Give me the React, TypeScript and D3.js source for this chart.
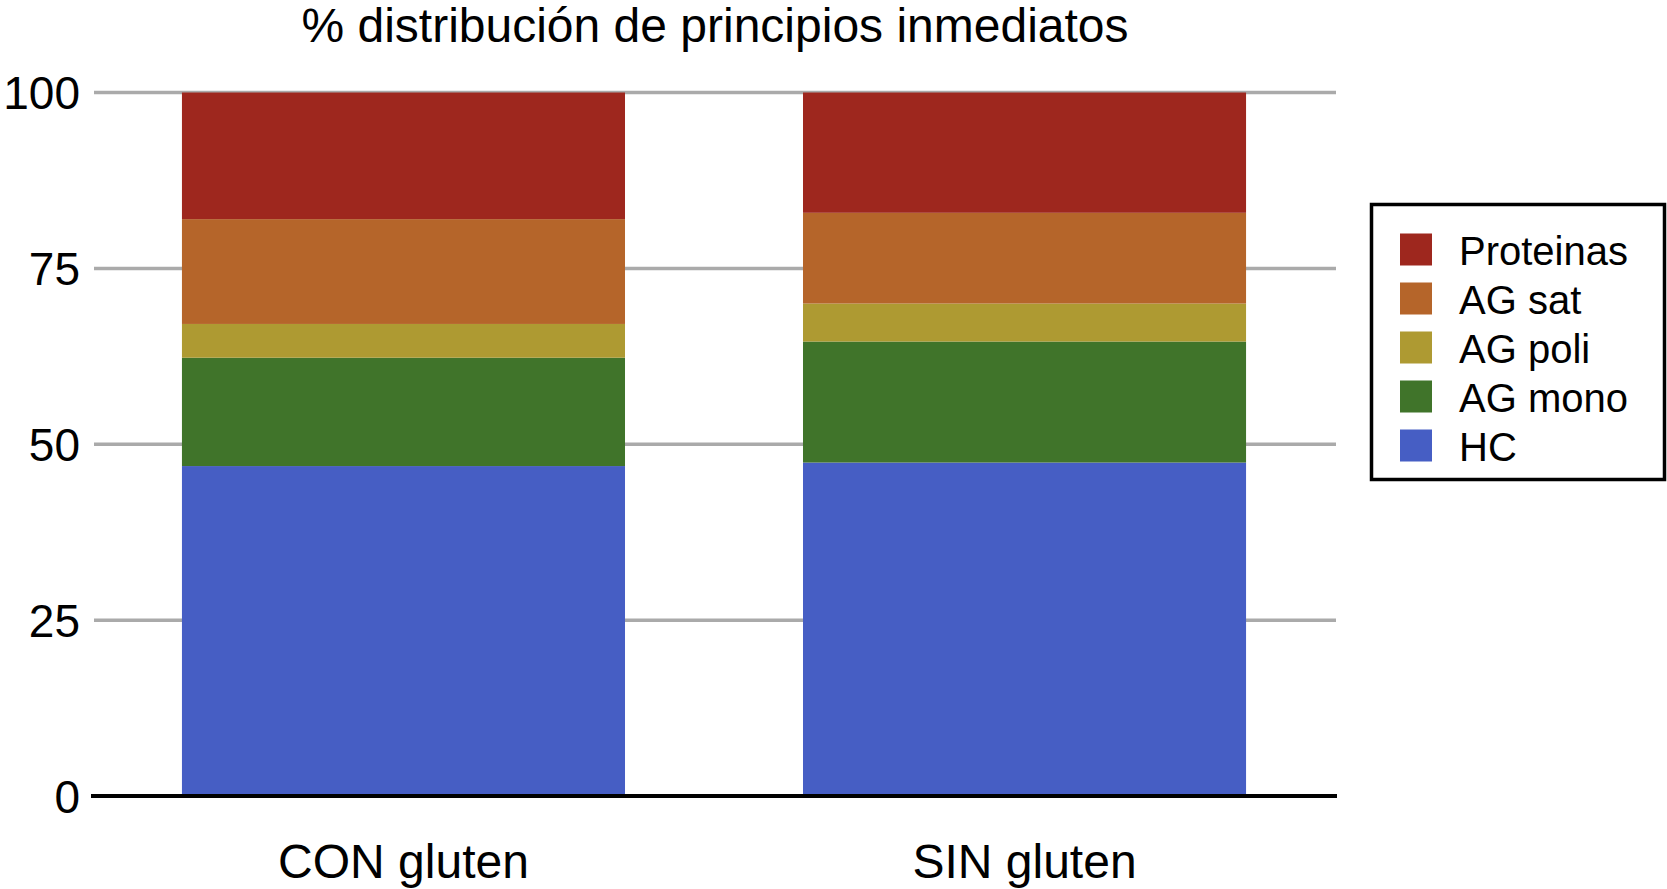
import * as d3 from "d3";

// categorías y series (%)
const categories = ["CON gluten", "SIN gluten"];
const seriesNames = ["HC", "AG mono", "AG poli", "AG sat", "Proteinas"];
const hc = [46.9, 47.4];
const agMono = [15.4, 17.2];
const agPoli = [4.8, 5.4];
const agSat = [14.9, 12.9];
const proteinas = [18.0, 17.1];
const yTicks = [0, 25, 50, 75, 100];
const colors = ["#465EC4", "#40742A", "#AE9A32", "#B5652A", "#9E271E"];

const W = 1667;
const H = 889;
const FONT = "'Liberation Sans', Arial, Helvetica, sans-serif";

export default function App() {
  const rows = categories.map((c, i) => ({
    cat: c,
    HC: hc[i],
    "AG mono": agMono[i],
    "AG poli": agPoli[i],
    "AG sat": agSat[i],
    Proteinas: proteinas[i],
  }));
  const stacked = d3.stack<any>().keys(seriesNames)(rows);

  const x = d3
    .scaleBand<string>()
    .domain(categories)
    .range([95, 1333])
    .paddingInner(0.2866)
    .paddingOuter(0.14);
  const y = d3.scaleLinear().domain([0, 100]).range([796, 92.5]);
  const color = d3.scaleOrdinal<string, string>().domain(seriesNames).range(colors);

  // legend order: top to bottom reversed
  const legendItems = [...seriesNames].reverse();

  return (
    <div style={{ position: "absolute", left: 0, top: 0 }}>
      <svg width={W} height={H} style={{ display: "block", background: "#fff" }}>
        <text
          x={715}
          y={42}
          textAnchor="middle"
          fontFamily={FONT}
          fontSize={48}
          fill="#000"
        >
          % distribución de principios inmediatos
        </text>

        {/* gridlines */}
        {yTicks
          .filter((t) => t > 0)
          .map((t) => (
            <line
              key={t}
              x1={94}
              x2={1336}
              y1={y(t)}
              y2={y(t)}
              stroke="#AAAAAA"
              strokeWidth={3.5}
            />
          ))}

        {/* tick labels */}
        {yTicks.map((t) => (
          <text
            key={"l" + t}
            x={80}
            y={y(t) + 16.5}
            textAnchor="end"
            fontFamily={FONT}
            fontSize={46}
            fill="#000"
          >
            {t}
          </text>
        ))}

        {/* bars */}
        {stacked.map((s) => (
          <g key={s.key} fill={color(s.key)}>
            {s.map((d) => (
              <rect
                key={d.data.cat}
                x={x(d.data.cat)}
                width={x.bandwidth()}
                y={y(d[1])}
                height={y(d[0]) - y(d[1])}
              />
            ))}
          </g>
        ))}

        {/* zero axis */}
        <line x1={91} x2={1337} y1={y(0)} y2={y(0)} stroke="#000" strokeWidth={4} />

        {/* category labels */}
        {categories.map((c) => (
          <text
            key={c}
            x={(x(c) ?? 0) + x.bandwidth() / 2}
            y={878}
            textAnchor="middle"
            fontFamily={FONT}
            fontSize={48}
            fill="#000"
          >
            {c}
          </text>
        ))}

        {/* legend */}
        <rect
          x={1371.5}
          y={204.5}
          width={293}
          height={275}
          fill="#fff"
          stroke="#000"
          strokeWidth={3.5}
        />
        {legendItems.map((k, i) => (
          <g key={k} transform={`translate(1400, ${233.5 + i * 49})`}>
            <rect width={32} height={32} fill={color(k)} />
            <text x={59} y={31} fontFamily={FONT} fontSize={40} fill="#000">
              {k}
            </text>
          </g>
        ))}
      </svg>
    </div>
  );
}
